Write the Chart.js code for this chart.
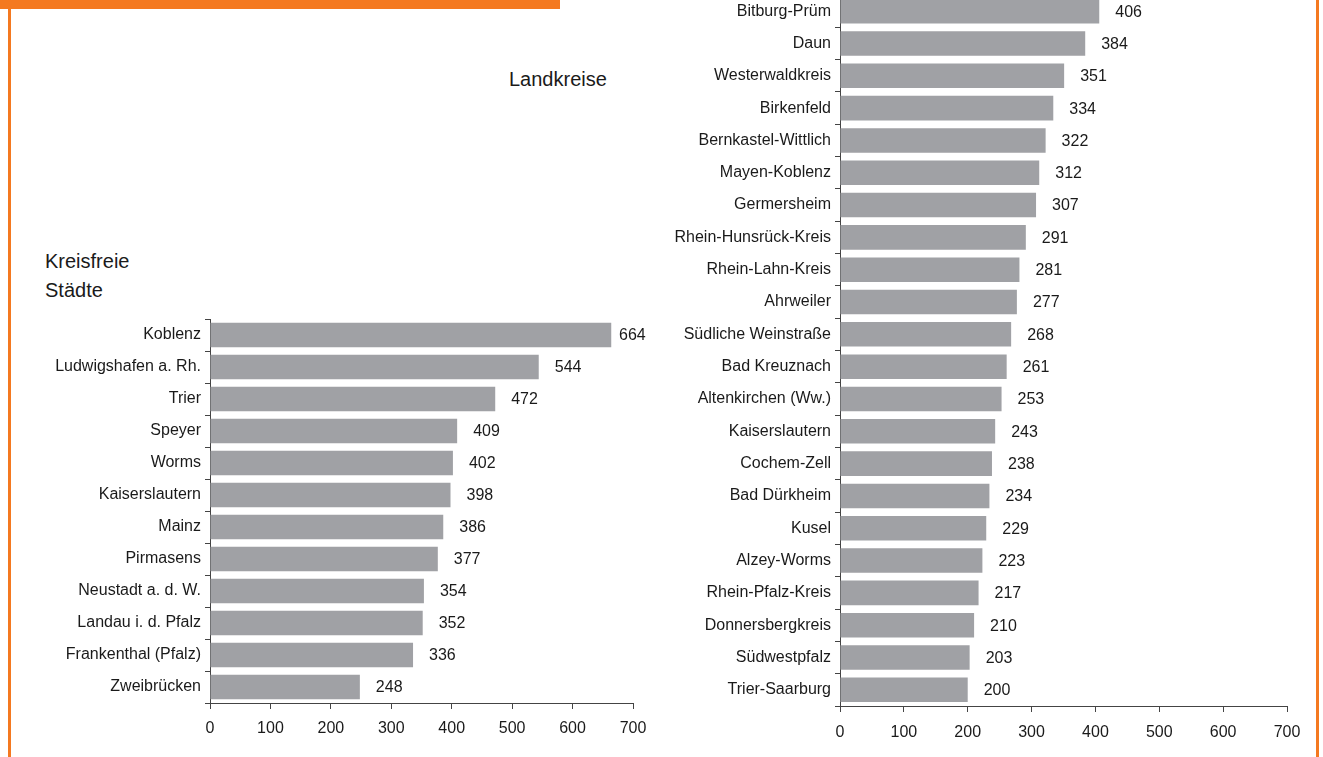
<!DOCTYPE html>
<html lang="de">
<head>
<meta charset="utf-8">
<title>Kreisfreie Städte / Landkreise</title>
<script src="https://cdn.jsdelivr.net/npm/chart.js@4/dist/chart.umd.min.js"></script>
<style>
  body { margin: 0; width: 1323px; height: 757px; overflow: hidden; background: #fff; position: relative;
         font-family: "Liberation Sans", Arial, sans-serif; color: #1a1a1a; }
  .orange { position: absolute; background: #f47920; }
  canvas { position: absolute; }
  .titel { position: absolute; font-size: 20px; line-height: 29px; }
</style>
</head>
<body>
<div class="orange" style="left:0;top:0;width:560px;height:9px"></div>
<div class="orange" style="left:8px;top:0;width:3px;height:757px"></div>
<div class="orange" style="left:1316px;top:0;width:3px;height:757px"></div>

<div class="titel" style="left:45px;top:247px">Kreisfreie<br>Städte</div>
<div class="titel" style="left:509px;top:65px">Landkreise</div>

<canvas id="staedteChart" width="680" height="457" style="left:0;top:300px"></canvas>
<canvas id="kreiseChart" width="663" height="787" style="left:660px;top:-30px"></canvas>

<script>
// Kreisfreie Städte
const staedte = ["Koblenz", "Ludwigshafen a. Rh.", "Trier", "Speyer", "Worms", "Kaiserslautern", "Mainz",
  "Pirmasens", "Neustadt a. d. W.", "Landau i. d. Pfalz", "Frankenthal (Pfalz)", "Zweibrücken"];
const staedteWerte = [664, 544, 472, 409, 402, 398, 386, 377, 354, 352, 336, 248];

// Landkreise
const kreise = ["Bitburg-Prüm", "Daun", "Westerwaldkreis", "Birkenfeld", "Bernkastel-Wittlich", "Mayen-Koblenz",
  "Germersheim", "Rhein-Hunsrück-Kreis", "Rhein-Lahn-Kreis", "Ahrweiler", "Südliche Weinstraße", "Bad Kreuznach",
  "Altenkirchen (Ww.)", "Kaiserslautern", "Cochem-Zell", "Bad Dürkheim", "Kusel", "Alzey-Worms",
  "Rhein-Pfalz-Kreis", "Donnersbergkreis", "Südwestpfalz", "Trier-Saarburg"];
const kreiseWerte = [406, 384, 351, 334, 322, 312, 307, 291, 281, 277, 268, 261, 253, 243, 238, 234, 229, 223,
  217, 210, 203, 200];

// x-Achse
const achseMax = 700, achseSchritt = 100;

const FONT = '"Liberation Sans", Arial, sans-serif';
const TXT = "#1a1a1a", AXIS = "#444", BAR = "#a0a1a5";

// Wertebeschriftung rechts neben dem Balken (am rechten Rand eingerückt, wie im Original)
const werteLabels = {
  id: "werteLabels",
  afterDatasetsDraw(chart) {
    const ctx = chart.ctx, meta = chart.getDatasetMeta(0), vals = chart.data.datasets[0].data;
    ctx.save();
    ctx.font = "16px " + FONT; ctx.fillStyle = TXT; ctx.textAlign = "left"; ctx.textBaseline = "middle";
    meta.data.forEach((b, i) => {
      const x = Math.min(b.x + 16, chart.chartArea.right - 14);
      ctx.fillText(String(vals[i]), x, b.y + 1);
    });
    ctx.restore();
  }
};

function balken(id, labels, werte, lay) {
  return new Chart(document.getElementById(id), {
    type: "bar",
    data: { labels, datasets: [{ data: werte, backgroundColor: BAR, borderWidth: 0,
      categoryPercentage: 1, barPercentage: 0.76 }] },
    options: {
      indexAxis: "y", responsive: false, animation: false, devicePixelRatio: 1,
      layout: { padding: { top: lay.top, right: lay.right, left: 0, bottom: 0 } },
      plugins: { legend: { display: false }, tooltip: { enabled: false } },
      scales: {
        x: { min: 0, max: achseMax,
          afterFit: (s) => { s.height = lay.xh; },
          border: { display: true, color: AXIS, width: 1 },
          grid: { drawOnChartArea: false, drawTicks: true, tickLength: 6, color: AXIS },
          ticks: { stepSize: achseSchritt, color: TXT, padding: lay.xpad, font: { family: FONT, size: 16 } } },
        y: { afterFit: (s) => { s.width = lay.yw; },
          border: { display: true, color: AXIS, width: 1 },
          grid: { offset: true, drawOnChartArea: false, drawTicks: true, tickLength: 5, color: AXIS },
          ticks: { autoSkip: false, color: TXT, padding: 4, font: { family: FONT, size: 16 } } }
      }
    },
    plugins: [werteLabels]
  });
}

balken("staedteChart", staedte, staedteWerte, { top: 19, right: 47, yw: 210, xh: 54, xpad: 10 });
balken("kreiseChart", kreise, kreiseWerte, { top: 25, right: 36, yw: 180, xh: 51, xpad: 11 });
</script>
</body>
</html>
